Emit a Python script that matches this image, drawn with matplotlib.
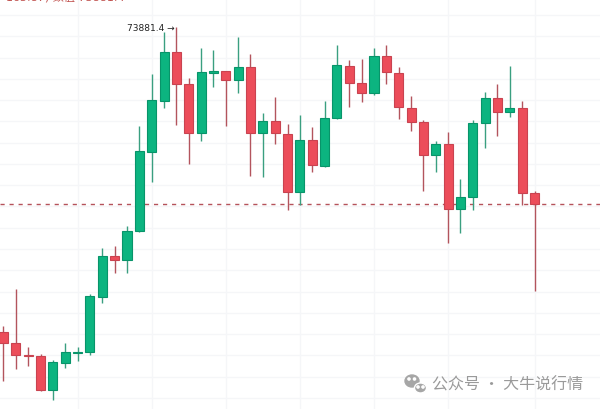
import numpy as np
import matplotlib
matplotlib.use("Agg")
import matplotlib.pyplot as plt
from matplotlib.patches import Ellipse, Circle

plt.rcParams["font.family"] = ["DejaVu Sans", "Noto Sans CJK SC"]

# OHLC (one candle per entry)
opens = [59549, 59032, 58491, 58421, 56823, 58092, 58562, 58609, 61194, 63121,
         62933, 64296, 68009, 70406, 72709, 71205, 68902, 71722, 71816, 71393,
         72004, 68902, 69466, 68855, 66129, 68573, 67351, 69607, 72051, 71252,
         70782, 72521, 71722, 70077, 69419, 67868, 68385, 65330, 65894, 69372,
         70547, 69889, 70077, 66082]
highs = [59831, 61570, 58844, 58515, 58233, 59032, 58844, 61335, 63497, 63591,
         64531, 69231, 71675, 73649, 73881.4, 71487, 72897, 72803, 71816, 73414,
         72615, 69842, 70594, 69325, 69748, 69184, 70406, 73038, 72333, 72380,
         72897, 73038, 72004, 70641, 69513, 68526, 68949, 66740, 69513, 70829,
         71205, 72051, 70406, 66176]
lows = [57246, 57810, 57951, 56776, 56353, 57857, 58186, 58468, 60912, 62322,
        62322, 64249, 66599, 70077, 69278, 67445, 68526, 71064, 69231, 70782,
        66881, 66834, 68385, 65283, 65518, 67069, 67304, 69560, 70124, 70359,
        70688, 71205, 69560, 68996, 66176, 67069, 63732, 64202, 65283, 68197,
        68761, 69654, 65518, 61476]
closes = [59032, 58468, 58421, 56823, 58139, 58609, 58632, 61241, 63121, 62933,
          64296, 68056, 70453, 72709, 71205, 68902, 71769, 71816, 71393, 72004,
          68902, 69466, 68902, 66129, 68573, 67398, 69607, 72098, 71252, 70782,
          72521, 71769, 70124, 69419, 67868, 68385, 65330, 65894, 69372, 70547,
          69889, 70077, 66082, 65565]
last_price = 65565
high_label = "73881.4"
grid_prices = np.arange(56000, 75500, 1000) - 550
grid_idx = [6, 12, 18, 24, 30, 36, 43]

UP_FACE, UP_EDGE, UP_WICK = "#0cb480", "#08946a", "#3a9f80"
DN_FACE, DN_EDGE, DN_WICK = "#ec4d5a", "#c94350", "#b3545d"

fig = plt.figure(figsize=(6, 4.1), dpi=100)
ax = fig.add_axes([0, 0, 1, 1])
ax.set_xlim(-0.283, 48.3)
ax.set_ylim(55930, 75200)
ax.axis("off")

for g in grid_prices:
    ax.axhline(g, color="#f5f6f8", lw=1, zorder=0)
for gi in grid_idx:
    ax.axvline(gi, color="#f5f6f8", lw=1, zorder=0)

x = np.arange(len(opens))
o = np.array(opens); c = np.array(closes)
up = c >= o
for i in x:
    wick = UP_WICK if up[i] else DN_WICK
    ax.vlines(i, lows[i], highs[i], color=wick, lw=1, zorder=2)
bottom = np.minimum(o, c)
height = np.maximum(np.abs(c - o), 60)
ax.bar(x[up], height[up], bottom=bottom[up], width=0.73, color=UP_FACE,
       edgecolor=UP_EDGE, linewidth=0.8, zorder=3)
ax.bar(x[~up], height[~up], bottom=bottom[~up], width=0.73, color=DN_FACE,
       edgecolor=DN_EDGE, linewidth=0.8, zorder=3)

ax.axhline(last_price, color="#b5525a", lw=1, dashes=(3, 3.5), zorder=1)

imax = int(np.argmax(highs))
ax.text(imax - 0.12, highs[imax], f"{high_label} →", ha="right", va="center",
        fontsize=6.5, color="#222222")

# header line, cut by the top edge as in the screenshot
ax.text(0.2, 75330, "165.87) 数值 73881.4", ha="left", va="center",
        fontsize=8, color="#c0504d")

# watermark in pixel coordinates
ov = fig.add_axes([0, 0, 1, 1], facecolor="none")
ov.set_xlim(0, 600); ov.set_ylim(410, 0); ov.axis("off")
ov.add_patch(Ellipse((412, 382), 14, 12, color="#a6a6a6", zorder=1))
ov.add_patch(Ellipse((420.5, 389), 12, 10, facecolor="#a6a6a6", edgecolor="white", lw=1, zorder=2))
for cx, cy in [(409, 380), (414.5, 380), (418, 388), (423, 388)]:
    ov.add_patch(Circle((cx, cy), 1.1, color="white", zorder=3))
ov.text(432, 385, "公众号 · 大牛说行情", ha="left", va="center", fontsize=11.5,
        color="#9a9a9a", family=["Noto Sans CJK SC", "DejaVu Sans"])

fig.savefig("out.png", dpi=100)
